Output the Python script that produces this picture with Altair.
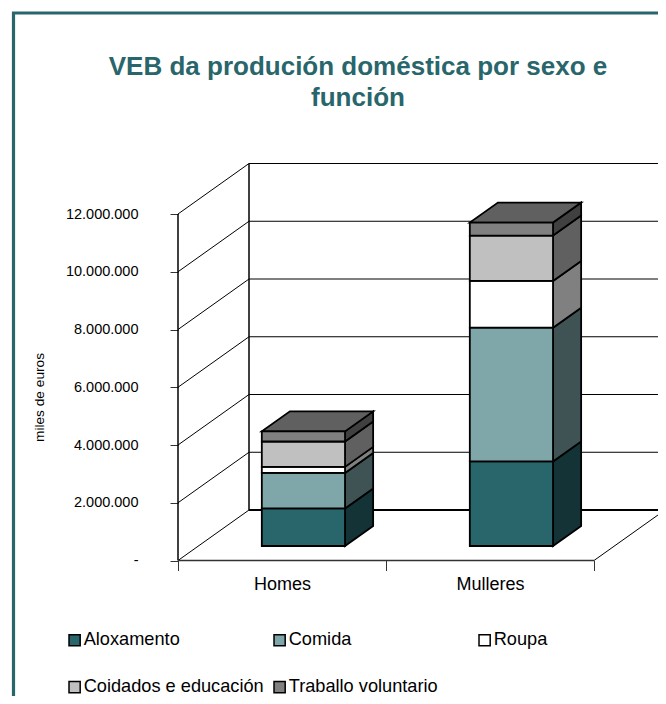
import altair as alt
import pandas as pd

title_lines = ["VEB da produción doméstica por sexo e", "función"]
categories = ["Homes", "Mulleres"]
series = ["Aloxamento", "Comida", "Roupa", "Coidados e educación", "Traballo voluntario"]
homes = [1300000, 1230000, 210000, 880000, 350000]
mulleres = [2930000, 4630000, 1620000, 1570000, 450000]
values = {"Homes": homes, "Mulleres": mulleres}
front_colors = ["#29666c", "#7fa6a8", "#ffffff", "#c0c0c0", "#808080"]
side_colors = ["#143336", "#3f5354", "#808080", "#606060", "#404040"]
top_color = "#606060"
y_ticks = [0, 2000000, 4000000, 6000000, 8000000, 10000000, 12000000]
teal = "#29666c"

W, H = 650, 688

# oblique projection: one unit of depth, in axis units
DX = 71 / 208
DY = 50.5 / 346.5 * 12000000
BAR_D0, BAR_D1 = 0.287, 0.683
BAR_W = 0.4
BAR_CENTER = 0.505


def px(x, d):
    return x + d * DX


def py(v, d):
    return v + d * DY


xscale = alt.Scale(domain=[-170 / 208, (W - 170) / 208], nice=False, zero=False)
ypx = 12000000 / 346.5
yscale = alt.Scale(domain=[(552.5 - H) * ypx, 552.5 * ypx], nice=False, zero=False)


def X(field="x"):
    return alt.X(f"{field}:Q", scale=xscale)


def Y(field="y"):
    return alt.Y(f"{field}:Q", scale=yscale)


def path_frame(paths):
    rows = []
    for i, path in enumerate(paths):
        for j, (x, d, v) in enumerate(path):
            rows.append({"id": i, "o": j, "x": px(x, d), "y": py(v, d)})
    return pd.DataFrame(rows)


top_v = y_ticks[-1]
thin_paths = [[(0, 0, v), (0, 1, v), (2, 1, v)] for v in y_ticks[1:]]
thin_paths += [[(2, 0, 0), (2, 1, 0)], [(0, 0, 0), (0, 1, 0)]]
strong_paths = [[(0, 0, 0), (0, 0, top_v)], [(0, 1, 0), (0, 1, top_v)]]
floor_paths = [[(0, 0, 0), (2, 0, 0)]]
right_paths = [[(2, 1, 0), (2, 1, top_v)]]


def lines(paths, width, color="black"):
    return alt.Chart(path_frame(paths)).mark_line(color=color, strokeWidth=width).encode(
        x=X(), y=Y(), detail="id:N", order="o:Q"
    )


front_rows, side_rows = [], []
for ci, cat in enumerate(categories):
    xl = ci + BAR_CENTER - BAR_W / 2
    xr = ci + BAR_CENTER + BAR_W / 2
    base = 0
    for si, name in enumerate(series):
        top = base + values[cat][si]
        front_rows.append({
            "series": name,
            "x": px(xl, BAR_D0), "x2": px(xr, BAR_D0),
            "y": py(base, BAR_D0), "y2": py(top, BAR_D0),
        })
        key = f"{cat}-{si}"
        for d in (BAR_D0, BAR_D1):
            side_rows.append({"key": key, "fill": side_colors[si], "x": px(xr, d),
                              "y": py(base, d), "y2": py(top, d)})
        base = top
    key = f"{cat}-top"
    for x, low, high in [
        (px(xl, BAR_D0), BAR_D0, BAR_D0),
        (px(xl, BAR_D1), BAR_D0, BAR_D1),
        (px(xr, BAR_D0), BAR_D0, BAR_D1),
        (px(xr, BAR_D1), BAR_D1, BAR_D1),
    ]:
        side_rows.append({"key": key, "fill": top_color, "x": x,
                          "y": py(base, low), "y2": py(base, high)})

front_df = pd.DataFrame(front_rows)
side_df = pd.DataFrame(side_rows)

frame = alt.Chart(pd.DataFrame({"a": [0]})).mark_rect(
    fill="transparent", stroke=teal, strokeWidth=3.2
).encode(x=alt.value(5.5), x2=alt.value(800), y=alt.value(5), y2=alt.value(900))

center_values = [0, 0.5, 1, 1.5, 2]
label_expr = (
    f"datum.value == 0.5 ? '{categories[0]}' : datum.value == 1.5 ? '{categories[1]}' : ''"
)
x_axis = alt.Axis(
    values=center_values, labelExpr=label_expr, offset=552.5 - H, domain=False, grid=False,
    tickSize=10, tickColor="#333333", tickWidth=1,
    tickOpacity={"condition": {"test": "datum.value % 1 != 0", "value": 0}, "value": 1},
    labelFont="Liberation Sans", labelFontSize=18, labelColor="black", labelPadding=5,
    labelOverlap=False, labelFlush=False, title=None,
)
y_axis = alt.Axis(
    values=y_ticks, offset=-170, domain=False, grid=False, tickSize=8, tickColor="#333333",
    tickWidth=1, labelFont="Liberation Sans", labelFontSize=14.5, labelColor="black",
    labelPadding=32, labelExpr="datum.value == 0 ? '-' : replace(format(datum.value, ',d'), /,/g, '.')",
    labelOverlap=False, labelFlush=False, title="miles de euros",
    titleFont="Liberation Sans", titleFontSize=13.7, titleFontWeight="normal",
    titleColor="black", titleX=-132, titleY=389, titleAngle=270, titleAlign="center", titleBaseline="bottom",
)

axes = alt.Chart(pd.DataFrame({"x": [0, 2], "y": [0, top_v]})).mark_point(opacity=0).encode(
    x=alt.X("x:Q", scale=xscale, axis=x_axis),
    y=alt.Y("y:Q", scale=yscale, axis=y_axis),
)

sides = alt.Chart(side_df).mark_area(stroke="black", strokeWidth=1.8).encode(
    x=X(), y=Y(), y2="y2:Q", detail="key:N",
    fill=alt.Fill("fill:N", scale=None, legend=None),
)

fronts = alt.Chart(front_df).mark_rect(stroke="black", strokeWidth=1.8).encode(
    x=X(), x2="x2:Q", y=Y(), y2="y2:Q",
    fill=alt.Fill(
        "series:N",
        scale=alt.Scale(domain=series, range=front_colors),
        sort=series,
        legend=alt.Legend(
            title=None, orient="none", legendX=57.5, legendY=623, columns=3, gridAlign="all",
            direction="horizontal",
            columnPadding=6, rowPadding=28, symbolType="square", symbolSize=125,
            symbolStrokeColor="black", symbolStrokeWidth=1.5, symbolOpacity=1,
            labelFont="Liberation Sans", labelFontSize=18.2, labelColor="black", labelLimit=300,
            labelOffset=0,
        ),
    ),
)

chart = alt.layer(
    axes,
    lines(thin_paths, 1),
    lines(right_paths, 2, "#808080"),
    lines(strong_paths, 1.5),
    lines(floor_paths, 1.5, "#333333"),
    lines([[(0, 1, 0), (2, 1, 0)]], 2),
    sides,
    fronts,
    frame,
).resolve_scale(fill="independent").properties(
    width=W,
    height=H,
    padding=0,
    autosize=alt.AutoSizeParams(type="none"),
    title=alt.TitleParams(
        text=title_lines, font="Liberation Sans", fontSize=26, fontWeight="bold", color=teal,
        anchor="middle", baseline="top", lineHeight=31, dx=25, dy=107,
    ),
).configure_view(stroke=None)

chart.save("out.html", embed_options={"renderer": "svg", "actions": False})
